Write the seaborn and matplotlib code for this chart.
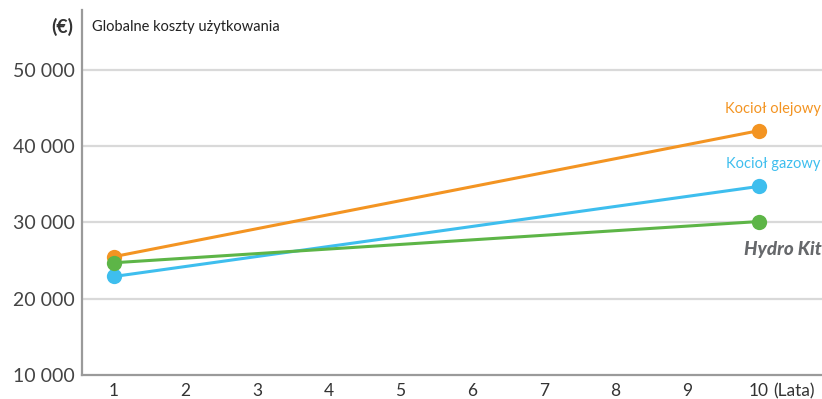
import matplotlib
matplotlib.use("Agg")
import matplotlib.pyplot as plt
import seaborn as sns
import pandas as pd

# Data
years = [1, 10]
oil_costs = [25500, 42000]
gas_costs = [22900, 34700]
hydro_costs = [24700, 30100]
series_names = ["Kocioł olejowy", "Kocioł gazowy", "Hydro Kit"]
x_ticks = [1, 2, 3, 4, 5, 6, 7, 8, 9, 10]
y_ticks = [10000, 20000, 30000, 40000, 50000]

colors = {"Kocioł olejowy": "#F39422", "Kocioł gazowy": "#3EBEEE", "Hydro Kit": "#5DB547"}

df = pd.DataFrame({
    "year": years * 3,
    "cost": oil_costs + gas_costs + hydro_costs,
    "series": [series_names[0]] * 2 + [series_names[1]] * 2 + [series_names[2]] * 2,
})

sns.set_theme(style="white")
plt.rcParams["font.family"] = ["Lato", "DejaVu Sans"]

fig = plt.figure(figsize=(8.22, 3.99), dpi=100)
ax = fig.add_axes([82 / 822, 1 - 375 / 399, 1 - 82 / 822, (375 - 10) / 399])

sns.lineplot(data=df, x="year", y="cost", hue="series", palette=colors,
             marker="o", markersize=11, markeredgewidth=0, linewidth=2.2,
             legend=False, ax=ax, zorder=3)

ax.set_xlim(0.555, 10.88)
ax.set_ylim(10000, 57800)
ax.set_yticks(y_ticks)
ax.set_yticklabels([f"{v:,}".replace(",", " ") for v in y_ticks])
ax.set_xticks(x_ticks)
ax.set_xticklabels([str(v) for v in x_ticks])
ax.set_xlabel("")
ax.set_ylabel("")
ax.tick_params(axis="y", length=0, pad=5, labelsize=14, labelcolor="#444444")
ax.tick_params(axis="x", length=0, pad=6, labelsize=12.5, labelcolor="#333333")
for v in y_ticks[1:]:
    ax.axhline(v, color="#d9d9d9", linewidth=1.6, zorder=1)
for s in ["top", "right"]:
    ax.spines[s].set_visible(False)
for s in ["left", "bottom"]:
    ax.spines[s].set_color("#9a9a9a")
    ax.spines[s].set_linewidth(1.6)

ax.annotate("(Lata)", xy=(10, 0), xycoords=ax.get_xaxis_transform(),
            xytext=(10, -6), textcoords="offset points", ha="left", va="top",
            fontsize=12.5, color="#333333")

fig.text(73 / 822, 1 - 27 / 399, "(€)", ha="right", va="center", fontsize=14,
         fontweight="bold", color="#333333")
fig.text(92 / 822, 1 - 27 / 399, "Globalne koszty użytkowania", ha="left", va="center",
         fontsize=10.5, color="#222222")

ax.text(10.2, 43900, "Kocioł olejowy", ha="center", va="bottom", fontsize=10.5, color=colors["Kocioł olejowy"])
ax.text(10.2, 36700, "Kocioł gazowy", ha="center", va="bottom", fontsize=10.5, color=colors["Kocioł gazowy"])
ax.text(10.87, 26400, "Hydro Kit", ha="right", va="center", fontsize=13.5, fontweight="black",
        fontstyle="italic", color="#66686b")

fig.savefig("out.png", dpi=100)
